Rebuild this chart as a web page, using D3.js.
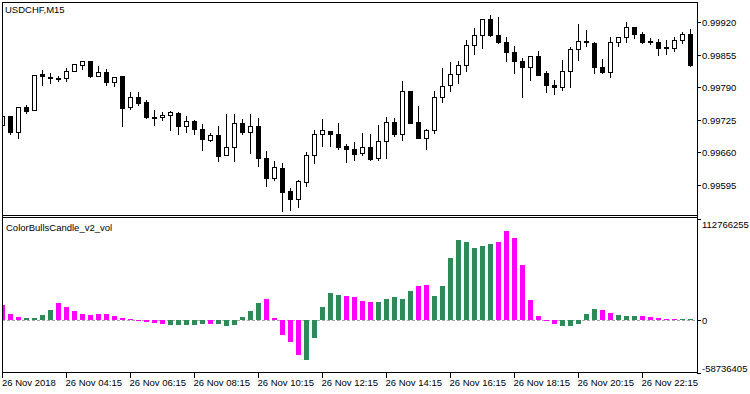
<!DOCTYPE html>
<html>
<head>
<meta charset="utf-8">
<script src="https://cdn.jsdelivr.net/npm/d3@7"></script>
<style>
  body { margin: 0; background: #fff; }
  svg { display: block; }
  text { font-family: "Liberation Sans", Arial, sans-serif; font-size: 9.5px; fill: #000; }
</style>
</head>
<body>
<svg id="chart"></svg>
<script>
// USDCHF M15 candles (26 Nov 2018, 02:15 .. 23:45)
const open = [
  0.99715, 0.99733, 0.99700, 0.99750, 0.99744, 0.99816, 0.99810, 0.99809, 0.99808, 0.99822,
  0.99834, 0.99843, 0.99812, 0.99820, 0.99800, 0.99813, 0.99750, 0.99771, 0.99760, 0.99730,
  0.99730, 0.99734, 0.99739, 0.99712, 0.99723, 0.99707, 0.99685, 0.99695, 0.99654, 0.99670,
  0.99718, 0.99700, 0.99712, 0.99649, 0.99608, 0.99629, 0.99583, 0.99568, 0.99600, 0.99654,
  0.99696, 0.99703, 0.99697, 0.99673, 0.99667, 0.99658, 0.99671, 0.99648, 0.99682, 0.99720,
  0.99696, 0.99783, 0.99720, 0.99688, 0.99704, 0.99770, 0.99794, 0.99816, 0.99834, 0.99874,
  0.99894, 0.99926, 0.99894, 0.99880, 0.99860, 0.99842, 0.99830, 0.99852, 0.99818, 0.99794,
  0.99790, 0.99822, 0.99866, 0.99883, 0.99879, 0.99831, 0.99820, 0.99880, 0.99890, 0.99910,
  0.99896, 0.99882, 0.99880, 0.99870, 0.99868, 0.99884, 0.99896
];
const high = [
  0.99733, 0.99733, 0.99750, 0.99755, 0.99815, 0.99825, 0.99818, 0.99813, 0.99829, 0.99836,
  0.99842, 0.99843, 0.99833, 0.99827, 0.99811, 0.99813, 0.99780, 0.99780, 0.99765, 0.99745,
  0.99740, 0.99743, 0.99741, 0.99732, 0.99725, 0.99717, 0.99698, 0.99713, 0.99737, 0.99737,
  0.99727, 0.99737, 0.99729, 0.99663, 0.99642, 0.99638, 0.99589, 0.99605, 0.99661, 0.99705,
  0.99727, 0.99703, 0.99719, 0.99677, 0.99681, 0.99699, 0.99697, 0.99715, 0.99731, 0.99729,
  0.99803, 0.99783, 0.99753, 0.99707, 0.99783, 0.99829, 0.99841, 0.99843, 0.99885, 0.99909,
  0.99926, 0.99935, 0.99930, 0.99890, 0.99872, 0.99848, 0.99852, 0.99863, 0.99823, 0.99804,
  0.99844, 0.99870, 0.99916, 0.99905, 0.99880, 0.99847, 0.99890, 0.99890, 0.99921, 0.99910,
  0.99900, 0.99888, 0.99886, 0.99884, 0.99890, 0.99900, 0.99906
];
const low = [
  0.99714, 0.99697, 0.99688, 0.99738, 0.99744, 0.99794, 0.99798, 0.99802, 0.99802, 0.99822,
  0.99826, 0.99810, 0.99812, 0.99794, 0.99792, 0.99712, 0.99746, 0.99754, 0.99728, 0.99715,
  0.99724, 0.99704, 0.99696, 0.99700, 0.99696, 0.99664, 0.99682, 0.99642, 0.99654, 0.99642,
  0.99696, 0.99658, 0.99632, 0.99594, 0.99605, 0.99544, 0.99546, 0.99552, 0.99594, 0.99638,
  0.99672, 0.99672, 0.99667, 0.99640, 0.99645, 0.99654, 0.99645, 0.99645, 0.99649, 0.99692,
  0.99685, 0.99718, 0.99688, 0.99667, 0.99698, 0.99760, 0.99782, 0.99798, 0.99822, 0.99856,
  0.99868, 0.99892, 0.99878, 0.99842, 0.99818, 0.99770, 0.99804, 0.99814, 0.99780, 0.99776,
  0.99785, 0.99790, 0.99845, 0.99872, 0.99818, 0.99818, 0.99810, 0.99872, 0.99881, 0.99888,
  0.99878, 0.99876, 0.99854, 0.99856, 0.99862, 0.99878, 0.99832
];
const close = [
  0.99733, 0.99700, 0.99750, 0.99743, 0.99815, 0.99813, 0.99808, 0.99806, 0.99822, 0.99836,
  0.99842, 0.99812, 0.99821, 0.99800, 0.99811, 0.99749, 0.99770, 0.99758, 0.99730, 0.99728,
  0.99734, 0.99741, 0.99712, 0.99723, 0.99706, 0.99686, 0.99694, 0.99653, 0.99670, 0.99719,
  0.99700, 0.99712, 0.99648, 0.99608, 0.99630, 0.99582, 0.99568, 0.99603, 0.99654, 0.99696,
  0.99705, 0.99696, 0.99671, 0.99666, 0.99657, 0.99671, 0.99647, 0.99682, 0.99720, 0.99696,
  0.99783, 0.99719, 0.99688, 0.99704, 0.99770, 0.99792, 0.99816, 0.99834, 0.99875, 0.99895,
  0.99926, 0.99894, 0.99880, 0.99860, 0.99842, 0.99830, 0.99852, 0.99814, 0.99794, 0.99790,
  0.99822, 0.99866, 0.99882, 0.99880, 0.99830, 0.99820, 0.99880, 0.99890, 0.99910, 0.99896,
  0.99881, 0.99880, 0.99868, 0.99868, 0.99884, 0.99896, 0.99834
];

// ColorBullsCandle_v2_vol histogram values and colour index (0 = green, 1 = magenta)
const bulls = [
  16.3e6, 7.0e6, 3.7e6, 2.6e6, 2.6e6, 5.9e6, 11.5e6, 18.5e6, 14.9e6, 10.4e6,
  7.0e6, 5.9e6, 7.0e6, 7.0e6, 4.8e6, 2.6e6, 1.5e6, 0.4e6, -1.9e6, -3.0e6,
  -4.1e6, -5.2e6, -5.2e6, -5.2e6, -5.2e6, -4.1e6, -4.1e6, -4.1e6, -6.4e6, -5.2e6,
  3.7e6, 10.4e6, 19.3e6, 23.8e6, 2.6e6, -17.2e6, -25.0e6, -39.5e6, -45.1e6, -20.6e6,
  14.9e6, 30.5e6, 28.3e6, 27.1e6, 26.0e6, 21.6e6, 20.4e6, 20.4e6, 23.8e6, 26.0e6,
  23.8e6, 32.7e6, 38.3e6, 39.4e6, 27.1e6, 38.3e6, 69.6e6, 89.7e6, 87.5e6, 80.8e6,
  83.0e6, 85.2e6, 87.5e6, 99.7e6, 91.9e6, 61.8e6, 22.7e6, 4.8e6, 0.4e6, -4.1e6,
  -6.4e6, -6.4e6, -4.1e6, 7.0e6, 12.6e6, 11.5e6, 8.2e6, 5.9e6, 4.8e6, 4.8e6,
  4.8e6, 3.7e6, 2.6e6, 1.5e6, 1.5e6, 1.5e6, 1.5e6
];
const bullsColor = [
  1, 1, 1, 0, 0, 0, 0, 1, 1, 1,
  1, 1, 1, 1, 1, 1, 1, 1, 1, 1,
  1, 0, 0, 0, 0, 0, 1, 0, 0, 0,
  0, 0, 0, 1, 1, 1, 1, 1, 0, 0,
  0, 0, 0, 1, 1, 1, 1, 0, 0, 0,
  0, 0, 1, 1, 0, 0, 0, 0, 0, 0,
  0, 0, 1, 1, 1, 1, 1, 1, 1, 1,
  0, 0, 0, 0, 0, 1, 1, 0, 0, 0,
  1, 1, 1, 1, 1, 0, 0
];

const priceTicks = [0.99920, 0.99855, 0.99790, 0.99725, 0.99660, 0.99595];
const bullsTicks = [112766255, 0, -58736405];
const timeTickBars = [0, 8, 16, 24, 32, 40, 48, 56, 64, 72, 80];
const timeTickLabels = ["26 Nov 2018", "26 Nov 04:15", "26 Nov 06:15", "26 Nov 08:15", "26 Nov 10:15",
  "26 Nov 12:15", "26 Nov 14:15", "26 Nov 16:15", "26 Nov 18:15", "26 Nov 20:15", "26 Nov 22:15"];

const W = 750, H = 394;
const left = 2, right = 697;          // plot edges
const top1 = 2, bot1 = 215;           // price panel
const top2 = 217, bot2 = 372;         // indicator panel
const colors = ["#2e8b57", "#ff00ff"];

const svg = d3.select("#chart").attr("width", W).attr("height", H)
  .style("shape-rendering", "crispEdges");

const n = open.length;
const x = d3.scaleBand().domain(d3.range(n)).range([-1.5, -1.5 + 8 * n]).padding(0);
const yP = d3.scaleLinear().domain([0.99595, 0.99920]).range([185, 22.3]);
const yB = d3.scaleLinear().domain([-58736405, 112766255]).range([372.5, 219]);

const defs = svg.append("defs");
defs.append("clipPath").attr("id", "clip1").append("rect")
  .attr("x", left + 1).attr("y", top1 + 1).attr("width", right - left - 1).attr("height", bot1 - top1 - 1);
defs.append("clipPath").attr("id", "clip2").append("rect")
  .attr("x", left + 1).attr("y", top2 + 1).attr("width", right - left - 1).attr("height", bot2 - top2 - 1);

// candles
const g1 = svg.append("g").attr("clip-path", "url(#clip1)");
d3.range(n).forEach(i => {
  const cx = x(i) + 4;                 // wick pixel centre
  const x0 = Math.floor(cx) - 2;       // body left pixel
  g1.append("line")
    .attr("x1", cx).attr("x2", cx)
    .attr("y1", Math.round(yP(high[i]))).attr("y2", Math.round(yP(low[i])) + 1)
    .attr("stroke", "#000").attr("stroke-width", 1);
  const t = Math.round(yP(Math.max(open[i], close[i])));
  const b = Math.round(yP(Math.min(open[i], close[i])));
  if (close[i] > open[i]) {
    g1.append("rect")
      .attr("x", x0 + 0.5).attr("y", t + 0.5)
      .attr("width", 4).attr("height", Math.max(b - t, 1))
      .attr("fill", "#fff").attr("stroke", "#000").attr("stroke-width", 1);
  } else {
    g1.append("rect")
      .attr("x", x0).attr("y", t)
      .attr("width", 5).attr("height", Math.max(b - t + 1, 1))
      .attr("fill", "#000");
  }
});

// histogram
const g2 = svg.append("g").attr("clip-path", "url(#clip2)");
g2.append("line")
  .attr("x1", left).attr("x2", right)
  .attr("y1", Math.round(yB(0)) + 0.5).attr("y2", Math.round(yB(0)) + 0.5)
  .attr("stroke", "#a9a9a9").attr("stroke-dasharray", "3,2");
g2.selectAll("rect.bar").data(bulls).join("rect")
  .attr("class", "bar")
  .attr("x", (d, i) => Math.floor(x(i) + 4) - 2)
  .attr("width", 5)
  .attr("y", d => Math.round(Math.min(yB(d), yB(0))))
  .attr("height", d => Math.max(Math.round(Math.abs(yB(d) - yB(0))), 1))
  .attr("fill", (d, i) => colors[bullsColor[i]]);

// frames
const frame = svg.append("g").attr("stroke", "#000").attr("stroke-width", 1);
[[left, top1, right, top1], [left, bot1, right, bot1], [left, top2, right, top2], [left, bot2, right, bot2]]
  .forEach(([x1, y1, x2, y2]) => frame.append("line")
    .attr("x1", x1).attr("y1", y1 + 0.5).attr("x2", x2 + 1).attr("y2", y2 + 0.5));
[[left, top1, left, bot2], [right, top1, right, bot2]]
  .forEach(([x1, y1, x2, y2]) => frame.append("line")
    .attr("x1", x1 + 0.5).attr("y1", y1).attr("x2", x2 + 0.5).attr("y2", y2 + 1));

// price axis
const ax1 = svg.append("g");
priceTicks.forEach(p => {
  const yy = Math.round(yP(p)) + 0.5;
  ax1.append("line").attr("x1", right).attr("x2", right + 4).attr("y1", yy).attr("y2", yy).attr("stroke", "#000");
  ax1.append("text").attr("x", right + 5).attr("y", yy + 3.5).text(p.toFixed(5));
});

// indicator axis
const ax2 = svg.append("g");
bullsTicks.forEach((v, i) => {
  const yy = Math.round(yB(v)) + 0.5;
  const ty = i === 0 ? yy + 8 : (i === bullsTicks.length - 1 ? yy - 2 : yy + 3.5);
  ax2.append("line").attr("x1", right).attr("x2", right + 4).attr("y1", yy).attr("y2", yy).attr("stroke", "#000");
  ax2.append("text").attr("x", right + 5).attr("y", ty).text(v);
});

// time axis
const ax3 = svg.append("g");
timeTickBars.forEach((b, i) => {
  const xx = Math.floor(x(b) + 4) + 0.5;
  ax3.append("line").attr("x1", xx).attr("x2", xx).attr("y1", bot2).attr("y2", bot2 + 6).attr("stroke", "#000");
  ax3.append("text").attr("x", Math.max(xx - 1, 2)).attr("y", 385.5).text(timeTickLabels[i]);
});

// titles
svg.append("text").attr("x", 5).attr("y", 12.5).text("USDCHF,M15");
svg.append("text").attr("x", 6).attr("y", 231).text("ColorBullsCandle_v2_vol");
</script>
</body>
</html>
